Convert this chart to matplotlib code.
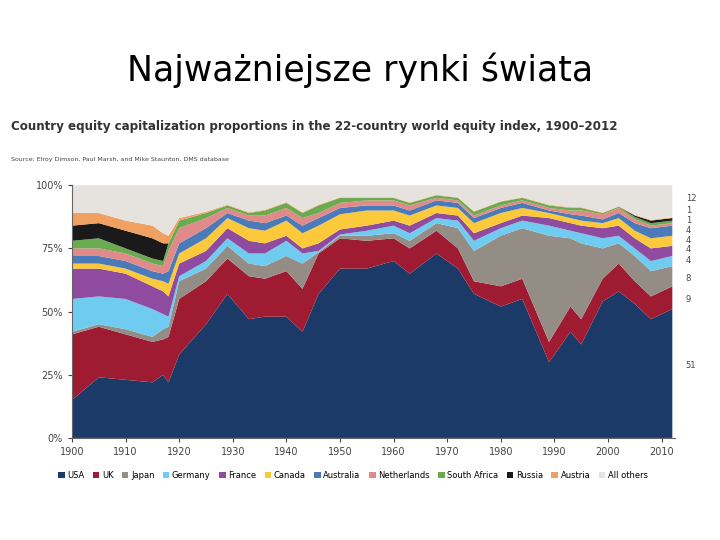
import matplotlib
matplotlib.use("Agg")
import matplotlib.pyplot as plt
import numpy as np

years = [1900,1905,1910,1915,1917,1918,1920,1925,1929,1933,1936,1940,1943,1946,1950,1955,1960,1963,1968,1972,1975,1980,1984,1989,1993,1995,1999,2002,2005,2008,2012]
usa   = [15,24,23,22,25,22,33,45,57,47,48,48,42,57,67,67,70,65,73,67,57,52,55,30,42,37,54,58,53,47,51]
uk    = [26,20,18,16,14,18,22,17,14,17,15,18,17,16,12,11, 9,10, 9, 8, 5, 8, 8, 8,10,10, 9,11, 9, 9, 9]
japan = [1,1,2,2,4,4,7,5,5,5,5,6,10,0.5,1,2,2,3,3,8,12,20,20,42,27,30,12,8,10,10,8]
germany=[13,11,12,11,6,4,2,3,3,4,5,6,4,0.5,0.5,2,3,3,2,3,4,3,3,4,3,4,4,3,3,4,4]
france= [12,11,10,9,9,8,5,4,4,5,4,2,2,3,2,2,2,3,2,2,3,2,2,3,3,3,4,4,4,5,4]
canada= [2,2,2,3,4,5,4,5,4,5,5,6,6,7,6,6,4,4,3,3,4,4,3,2,2,2,2,3,3,4,4]
australia=[3,3,3,3,3,5,4,4,2,3,3,2,3,3,2.5,2,2,2,2,2,2,2,2,1,1.5,2,1.5,2,3,4,4]
netherlands=[3,3,3,3,3,8,6,4,2,2,3,3,3,2,2,2,2,2,1,1,1,1,1,1,1.5,2,2,2,1.5,1,1]
safrica=[3,4,2,2,2,3,3,2,1,1,2,2,2,3,2,1,1,1,1,1,1.5,1.5,1,1,1,1,0.5,0.5,1,1,1]
russia= [6,6,7,8,7,0,0,0,0,0,0,0,0,0,0,0,0,0,0,0,0,0,0,0,0,0,0,0,0.5,1,1]
austria=[5,4,4,5,4,3,1,0.5,0.3,0.3,0.3,0.3,0.3,0.3,0.2,0.2,0.2,0.2,0.2,0.2,0.2,0.2,0.2,0.3,0.3,0.3,0.2,0.2,0.3,0.3,0.3]
series = [usa,uk,japan,germany,france,canada,australia,netherlands,safrica,russia,austria]
others = [100-sum(s[i] for s in series) for i in range(len(years))]
series.append(others)
names = ["USA","UK","Japan","Germany","France","Canada","Australia","Netherlands","South Africa","Russia","Austria","All others"]
colors = ["#1b3a68","#9e1b32","#948d86","#6fcbef","#8e4ba0","#fcc93a","#4a7ab8","#e08a8a","#6aab4f","#1a1a1a","#f0a060","#e6e3df"]
end_labels = ["51","9","8","4","4","4","4","1","1","12"]
end_label_y = [28.5,54.9,63.2,70.1,74.4,78.2,82.0,86.0,90.0,94.9]

fig = plt.figure(figsize=(7.2,5.4), dpi=100)
fig.text(0.5,0.87,"Najważniejsze rynki świata",ha="center",va="center",fontsize=25,family="DejaVu Sans")
fig.text(0.015,0.765,"Country equity capitalization proportions in the 22-country world equity index, 1900\u20132012",
         fontsize=8.6,fontweight="bold",color="#333333",va="center")
fig.text(0.015,0.705,"Source: Elroy Dimson, Paul Marsh, and Mike Staunton, DMS database",fontsize=4.5,color="#444444",va="center")

ax = fig.add_axes([0.1,0.189,0.8375,0.468])
ax.stackplot(years, *series, colors=colors, labels=names, linewidth=0)
ax.set_xlim(1900,2012.5)
ax.set_ylim(0,100)
ax.set_yticks([0,25,50,75,100])
ax.set_yticklabels(["0%","25%","50%","75%","100%"])
ax.set_xticks(range(1900,2011,10))
ax.tick_params(labelsize=7,colors="#444444",length=3)
for s in ["top","right"]:
    ax.spines[s].set_visible(False)
for s in ["left","bottom"]:
    ax.spines[s].set_color("#666666")
for lab,y in zip(end_labels,end_label_y):
    ax.text(2014.5,y,lab,fontsize=6,color="#444444",va="center",clip_on=False)
h,l = ax.get_legend_handles_labels()
fig.legend(h,l,loc="center",bbox_to_anchor=(0.49,0.12),ncol=12,frameon=False,fontsize=6,
           handlelength=0.8,handleheight=0.8,columnspacing=1.0,handletextpad=0.3)
fig.savefig("out.png",dpi=100)
